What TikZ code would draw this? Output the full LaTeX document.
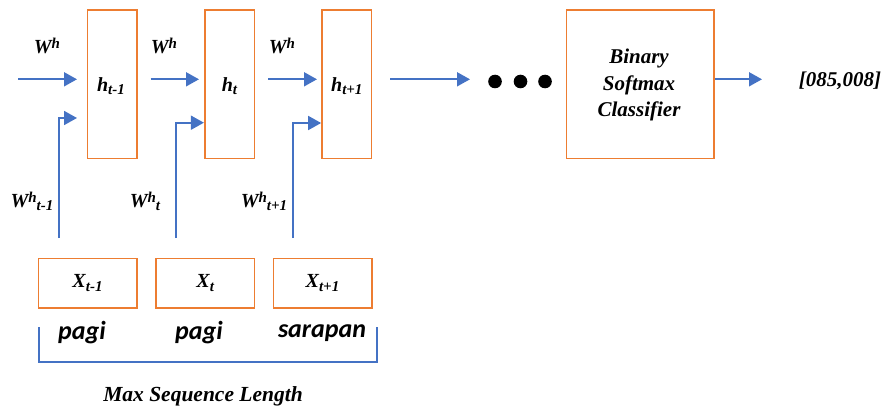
\documentclass[tikz,border=0pt]{standalone}
\usepackage{fontspec}
\setmainfont{Liberation Serif}
\newfontfamily\wordfont{Carlito}
\usetikzlibrary{arrows.meta}
\definecolor{lblue}{RGB}{68,114,196}
\definecolor{lorange}{RGB}{237,125,49}
\newcommand{\mysb}[1]{\raisebox{-0.35ex}{\fontsize{15}{15}\selectfont #1}}
\newcommand{\mysp}[1]{\raisebox{0.55ex}{\fontsize{15}{15}\selectfont #1}}
\begin{document}
\begin{tikzpicture}[x=1pt,y=-1pt,
  box/.style={draw=lorange,line width=1.6pt,inner sep=0pt},
  con/.style={draw=lblue,line width=1.8pt,-{Triangle[length=13pt,width=14pt]}},
  lbl/.style={font=\fontsize{20}{22}\selectfont\bfseries\itshape,inner sep=0pt},
  wlbl/.style={font=\fontsize{26}{28}\selectfont\wordfont\bfseries\itshape,inner sep=0pt}]
\useasboundingbox (0,0) rectangle (886,409);
% hidden boxes
\node[box,minimum width=49.4pt,minimum height=148.7pt] (h1) at (112,84.3) {};
\node[box,minimum width=49.6pt,minimum height=148.7pt] (h2) at (229.5,84.3) {};
\node[box,minimum width=49.7pt,minimum height=148.7pt] (h3) at (346.8,84.3) {};
\node[lbl] at (111,86) {h\mysb{t-1}};
\node[lbl] at (h2|-0,86) {h\mysb{t}};
\node[lbl] at (h3|-0,86) {h\mysb{t+1}};
% classifier
\node[box,minimum width=147.3pt,minimum height=148.7pt] (cl) at (640.3,84.3) {};
\node[lbl,align=center,font=\fontsize{21}{26.5}\selectfont\bfseries\itshape] at (639,85) {Binary\\Softmax\\Classifier};
\node[lbl,font=\fontsize{21}{22}\selectfont\bfseries\itshape] (out) at (840,81) {[085,008]};
% input boxes
\node[box,minimum width=98.4pt,minimum height=49.4pt] (x1) at (87.5,283) {};
\node[box,minimum width=98.3pt,minimum height=49.4pt] (x2) at (205.2,283) {};
\node[box,minimum width=98.4pt,minimum height=49.4pt] (x3) at (322.5,283) {};
\node[lbl] at (x1) {X\mysb{t-1}};
\node[lbl] at (x2) {X\mysb{t}};
\node[lbl] at (x3) {X\mysb{t+1}};
% coordinates
\coordinate (s0) at (18,79.3);
\coordinate (s1) at (150.7,79.3);
\coordinate (s2) at (268,79.3);
\coordinate (s3) at (390,79.3);
\coordinate (e3) at (470,79.3);
\coordinate (v1) at (58.7,238);
\coordinate (v2) at (175.7,238);
\coordinate (v3) at (293,238);
\coordinate (t1) at (77,118);
% dots
\foreach \i/\xx in {1/495,2/520.5,3/545}
  \fill (\xx,81.5) circle (6.8pt);
% horizontal arrows
\draw[con] (s0) -- (77,79.3);
\draw[con] (s1) -- (199,79.3);
\draw[con] (s2) -- (317,79.3);
\draw[con] (s3) -- (e3);
\draw[con] (cl.east |- 0,79.3) -- (762,79.3);
% vertical arrows
\draw[con] (v1) |- (t1);
\draw[con] (v2) |- (h2.west |- 0,122.7);
\draw[con] (v3) |- (h3.west |- 0,123);
% W labels
\node[lbl] at (47,46) {W\mysp{h}};
\node[lbl] at (164,46) {W\mysp{h}};
\node[lbl] at (282,46) {W\mysp{h}};
\node[lbl] at (32,201) {W\mysp{h}\mysb{t-1}};
\node[lbl] at (145,201) {W\mysp{h}\mysb{t}};
\node[lbl] at (264,201) {W\mysp{h}\mysb{t+1}};
% words
\node[wlbl] at (82,333) {pagi};
\node[wlbl] at (199,333) {pagi};
\node[wlbl] at (322,333) {sarapan};
% bracket
\draw[draw=lblue,line width=1.6pt] (39,327) -- (39,361.7) -- (376.7,361.7) -- (376.7,327);
\node[lbl,font=\fontsize{21.5}{23}\selectfont\bfseries\itshape] at (203,396) {Max Sequence Length};
\end{tikzpicture}
\end{document}
